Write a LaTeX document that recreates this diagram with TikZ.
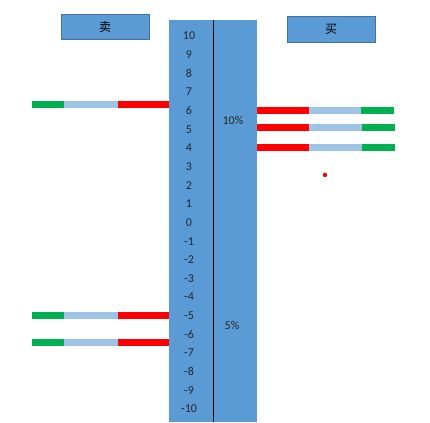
\documentclass[tikz,border=0pt]{standalone}
\usepackage{fontspec}
\setmainfont{Carlito}
\newfontfamily\cjk{Noto Sans CJK SC}
\definecolor{colblue}{HTML}{5B9BD5}
\definecolor{boxedge}{HTML}{41719C}
\definecolor{barg}{HTML}{00B050}
\definecolor{barlb}{HTML}{9DC3E6}
\definecolor{barr}{HTML}{FF0000}
\tikzset{
  labelbox/.style={draw=boxedge, line width=0.8pt, fill=colblue, minimum width=88pt, minimum height=25.5pt, inner sep=0pt, font=\cjk\fontsize{12}{14}\selectfont},
  num/.style={inner sep=0pt, font=\fontsize{12}{14}\selectfont, text=black!85},
}
\begin{document}
\begin{tikzpicture}[x=1pt,y=-1pt]
\useasboundingbox (0,0) rectangle (430,422);
% main column
\fill[colblue] (169,20) rectangle (257,421.5);
\coordinate (dtop) at (213,20);
\coordinate (dbot) at (213,421.5);
\draw[black, line width=0.8pt] (dtop) -- (dbot);
% numbers
\foreach \v [count=\i from 0] in {10,9,...,-10} {
  \node[num] (n\i) at (189,{36+\i*18.65}) {\v};
}
\node[num] (p10) at (233,120) {10\%};
\node[num] (p5) at (232,325) {5\%};
% labels
\node[labelbox] (sell) at (105,27) {卖};
\node[labelbox] (buy) at (331,29.5) {买};
% left bars
\foreach \y in {105,315,342} {
  \fill[barg] (32,\y-3.5) rectangle (64,\y+3.5);
  \fill[barlb] (64,\y-3.5) rectangle (117.5,\y+3.5);
  \fill[barr] (117.5,\y-3.5) rectangle (169,\y+3.5);
}
% right bars
\fill[barr] (257,106.7) rectangle (308.5,113.7);
\fill[barlb] (308.5,106.7) rectangle (361,113.7);
\fill[barg] (361,106.7) rectangle (393.7,113.7);
\foreach \y in {128,147} {
  \fill[barr] (257,\y-3.5) rectangle (309,\y+3.5);
  \fill[barlb] (309,\y-3.5) rectangle (362,\y+3.5);
  \fill[barg] (362,\y-3.5) rectangle (394.7,\y+3.5);
}
% red dot
\fill[barr] (325,175) circle (2.2);
\end{tikzpicture}
\end{document}
